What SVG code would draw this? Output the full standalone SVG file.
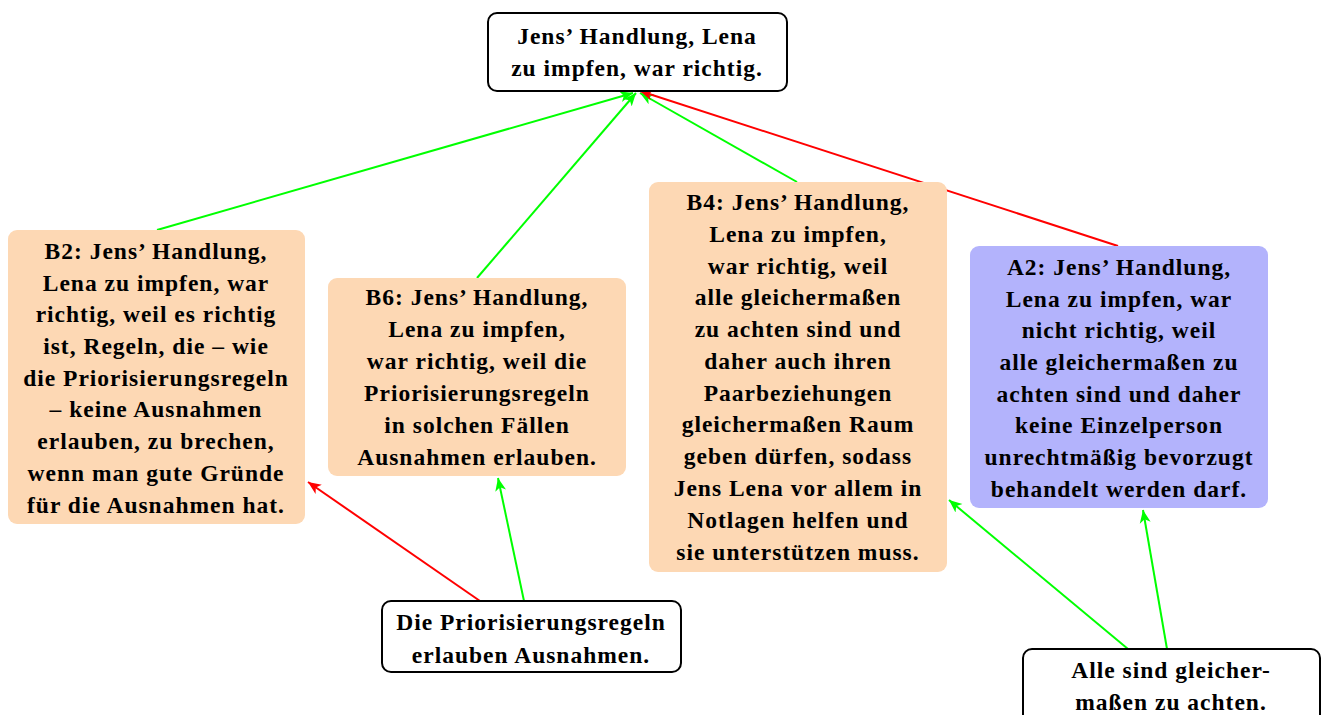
<svg xmlns="http://www.w3.org/2000/svg" width="1326" height="715" viewBox="0 0 1326 715">
<style>
text{font-family:"Liberation Serif","Times New Roman",serif;font-weight:bold;font-size:23.5px;fill:#000;text-anchor:middle;letter-spacing:1px}
.claim{fill:#fff;stroke:#000;stroke-width:2}
.pro{fill:#fdd8b4}
.con{fill:#b3b3fc}
.g{stroke:#00ff00;stroke-width:2;fill:none}
.r{stroke:#ff0000;stroke-width:2;fill:none}
</style>
<defs>
<marker id="ag" markerUnits="userSpaceOnUse" markerWidth="14" markerHeight="12" refX="13" refY="5.5" orient="auto" viewBox="0 0 14 11">
<path d="M0,0 L13,5.5 L0,11 L3.5,5.5 z" fill="#00ff00"/>
</marker>
<marker id="ar" markerUnits="userSpaceOnUse" markerWidth="14" markerHeight="12" refX="13" refY="5.5" orient="auto" viewBox="0 0 14 11">
<path d="M0,0 L13,5.5 L0,11 L3.5,5.5 z" fill="#ff0000"/>
</marker>
</defs>
<g id="connectors">
<path class="g" d="M157,230 L633,93" marker-end="url(#ag)"/>
<path class="g" d="M477,278 L636,93" marker-end="url(#ag)"/>
<path class="g" d="M797,182 L640,93" marker-end="url(#ag)"/>
<path class="r" d="M1118,246 L640,91" marker-end="url(#ar)"/>
<path class="r" d="M480,601 L308,482" marker-end="url(#ar)"/>
<path class="g" d="M524,601 L498,478" marker-end="url(#ag)"/>
<path class="g" d="M1128,649 L949,500" marker-end="url(#ag)"/>
<path class="g" d="M1167,649 L1143,510" marker-end="url(#ag)"/>
</g>
<g id="top">
<rect class="claim" x="488" y="13" width="299" height="78" rx="9"/>
<text x="637" y="44">Jens’ Handlung, Lena</text>
<text x="637" y="76">zu impfen, war richtig.</text>
</g>
<g id="B2">
<rect class="pro" x="8" y="230" width="297" height="294" rx="9"/>
<text x="156" y="259">B2: Jens’ Handlung,</text>
<text x="156" y="291">Lena zu impfen, war</text>
<text x="156" y="322">richtig, weil es richtig</text>
<text x="156" y="354">ist, Regeln, die – wie</text>
<text x="156" y="386">die Priorisierungsregeln</text>
<text x="156" y="417">– keine Ausnahmen</text>
<text x="156" y="449">erlauben, zu brechen,</text>
<text x="156" y="481">wenn man gute Gründe</text>
<text x="156" y="513">für die Ausnahmen hat.</text>
</g>
<g id="B6">
<rect class="pro" x="328" y="278" width="298" height="198" rx="9"/>
<text x="477" y="305">B6: Jens’ Handlung,</text>
<text x="477" y="337">Lena zu impfen,</text>
<text x="477" y="369">war richtig, weil die</text>
<text x="477" y="401">Priorisierungsregeln</text>
<text x="477" y="433">in solchen Fällen</text>
<text x="477" y="465">Ausnahmen erlauben.</text>
</g>
<g id="B4">
<rect class="pro" x="649" y="182" width="298" height="390" rx="9"/>
<text x="798" y="210">B4: Jens’ Handlung,</text>
<text x="798" y="242">Lena zu impfen,</text>
<text x="798" y="274">war richtig, weil</text>
<text x="798" y="305">alle gleichermaßen</text>
<text x="798" y="337">zu achten sind und</text>
<text x="798" y="369">daher auch ihren</text>
<text x="798" y="401">Paarbeziehungen</text>
<text x="798" y="432">gleichermaßen Raum</text>
<text x="798" y="464">geben dürfen, sodass</text>
<text x="798" y="496">Jens Lena vor allem in</text>
<text x="798" y="528">Notlagen helfen und</text>
<text x="798" y="560">sie unterstützen muss.</text>
</g>
<g id="A2">
<rect class="con" x="970" y="246" width="298" height="262" rx="9"/>
<text x="1119" y="275">A2: Jens’ Handlung,</text>
<text x="1119" y="307">Lena zu impfen, war</text>
<text x="1119" y="338">nicht richtig, weil</text>
<text x="1119" y="370">alle gleichermaßen zu</text>
<text x="1119" y="402">achten sind und daher</text>
<text x="1119" y="433">keine Einzelperson</text>
<text x="1119" y="465">unrechtmäßig bevorzugt</text>
<text x="1119" y="497">behandelt werden darf.</text>
</g>
<g id="C1">
<rect class="claim" x="382" y="601" width="299" height="71" rx="9"/>
<text x="531" y="630">Die Priorisierungsregeln</text>
<text x="531" y="663">erlauben Ausnahmen.</text>
</g>
<g id="C2">
<rect class="claim" x="1023" y="649" width="297" height="75" rx="9"/>
<text x="1171" y="678">Alle sind gleicher-</text>
<text x="1171" y="710">maßen zu achten.</text>
</g>
</svg>
